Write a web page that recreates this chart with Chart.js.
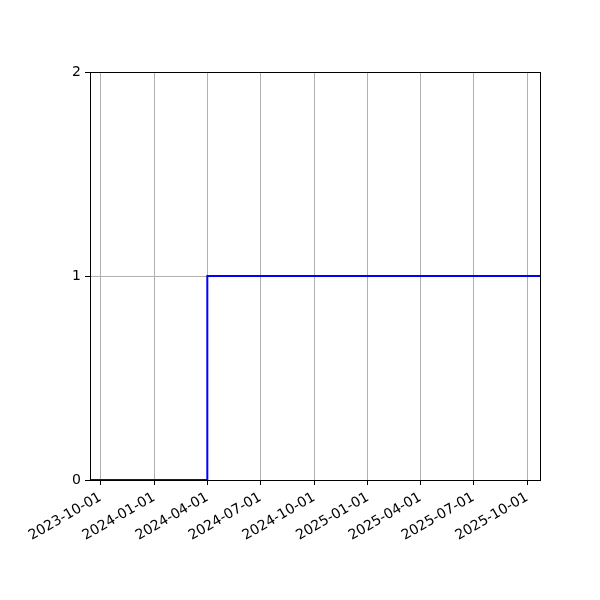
<!DOCTYPE html>
<html>
<head>
<meta charset="utf-8">
<script src="https://cdn.jsdelivr.net/npm/chart.js@4/dist/chart.umd.min.js"></script>
<style>
  body { margin: 0; background: #fff; }
  canvas { display: block; }
</style>
</head>
<body>
<canvas id="stepChart" width="600" height="600"></canvas>
<script>
// Step data: count changes at each date
const stepDates = ["2023-09-13", "2024-04-01", "2025-10-23"];
const stepCounts = [0, 1, 1];

// Axis range and tick labels
const xStart = "2023-09-13";
const xEnd = "2025-10-23";
const xTickLabels = ["2023-10-01", "2024-01-01", "2024-04-01", "2024-07-01", "2024-10-01",
  "2025-01-01", "2025-04-01", "2025-07-01", "2025-10-01"];
const yTicks = [0, 1, 2];

const toMs = (s) => Date.parse(s + "T00:00:00Z");

function fmtDate(ms) {
  const d = new Date(ms);
  const mm = String(d.getUTCMonth() + 1).padStart(2, "0");
  const dd = String(d.getUTCDate()).padStart(2, "0");
  return d.getUTCFullYear() + "-" + mm + "-" + dd;
}

// Black frame on all four sides like matplotlib spines
const framePlugin = {
  id: "frame",
  afterDatasetsDraw(chart) {
    const { ctx, chartArea: a } = chart;
    ctx.save();
    ctx.strokeStyle = "#000";
    ctx.lineWidth = 1;
    ctx.strokeRect(Math.round(a.left) + 0.5, Math.round(a.top) + 0.5,
      Math.round(a.right - a.left), Math.round(a.bottom - a.top));
    ctx.restore();
  }
};

const font = { family: "DejaVu Sans", size: 14 };

new Chart(document.getElementById("stepChart"), {
  type: "line",
  data: {
    datasets: [{
      data: stepDates.map((d, i) => ({ x: toMs(d), y: stepCounts[i] })),
      stepped: true,
      borderColor: "#0000ff",
      borderWidth: 2,
      pointRadius: 0,
      fill: false,
      clip: 4
    }]
  },
  options: {
    responsive: false,
    animation: false,
    layout: { padding: { top: 72, right: 60, left: 0, bottom: 0 } },
    plugins: { legend: { display: false }, tooltip: { enabled: false } },
    scales: {
      x: {
        type: "linear",
        min: toMs(xStart),
        max: toMs(xEnd),
        afterBuildTicks(scale) {
          scale.ticks = xTickLabels.map(s => ({ value: toMs(s) }));
        },
        afterFit(scale) { scale.height = 120; },
        ticks: {
          callback: (v) => fmtDate(v),
          minRotation: 30,
          maxRotation: 30,
          autoSkip: false,
          color: "#000",
          font: font,
          padding: 4
        },
        grid: { color: "#b0b0b0", lineWidth: 1, tickColor: "#000", tickLength: 5 },
        border: { display: false }
      },
      y: {
        min: 0,
        max: 2,
        afterBuildTicks(scale) {
          scale.ticks = yTicks.map(v => ({ value: v }));
        },
        afterFit(scale) { scale.width = 90; },
        ticks: { color: "#000", font: font, padding: 4 },
        grid: { color: "#b0b0b0", lineWidth: 1, tickColor: "#000", tickLength: 5 },
        border: { display: false }
      }
    }
  },
  plugins: [framePlugin]
});
</script>
</body>
</html>
